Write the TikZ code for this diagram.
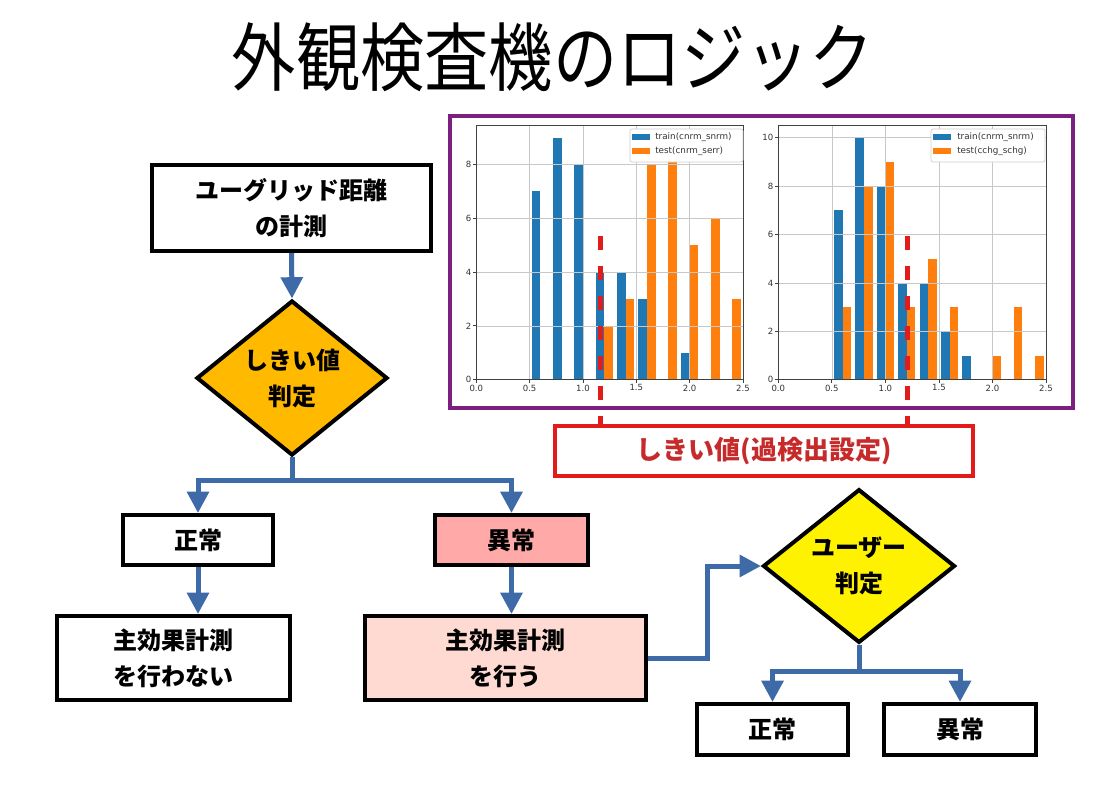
\documentclass[tikz,border=0pt]{standalone}
\usepackage{fontspec}
\usetikzlibrary{shapes.geometric,arrows.meta,calc}
\newfontfamily\jpfont{Noto Sans CJK JP}
\newfontfamily\pltfont{DejaVu Sans}
\definecolor{flowblue}{HTML}{3E6AA8}
\definecolor{gold}{HTML}{FFBA00}
\definecolor{alertpink}{HTML}{FFA9A9}
\definecolor{softpink}{HTML}{FFDAD2}
\definecolor{framepurple}{HTML}{7B1F80}
\definecolor{thrred}{HTML}{E41B1B}
\definecolor{thrtext}{HTML}{C62A2A}
\definecolor{mplblue}{HTML}{1F77B4}
\definecolor{mplorange}{HTML}{FF7F0E}
\definecolor{gridgray}{HTML}{C8C8C8}
\begin{document}
\begin{tikzpicture}[x=0.75pt,y=-0.75pt,
  box/.style={draw=black, line width=3pt, fill=white, align=center, inner sep=0pt,
    font=\jpfont\bfseries\fontsize{18}{27}\selectfont},
  decision/.style={diamond, draw=black, line width=3pt, align=center, inner sep=0pt,
    font=\jpfont\bfseries\fontsize{18}{27}\selectfont},
  flow/.style={draw=flowblue, line width=3.75pt, -{Triangle[width=16pt,length=16pt]}},
  flowline/.style={draw=flowblue, line width=3.75pt},
  thrbox/.style={draw=thrred, line width=3pt, fill=white, text=thrtext, inner sep=0pt,
    font=\jpfont\bfseries\fontsize{19.5}{24}\selectfont},
  thrdash/.style={draw=thrred, line width=3.75pt, dash pattern=on 10.5pt off 12pt},
  gridline/.style={draw=gridgray, line width=0.5pt},
  spine/.style={draw=black!75, line width=0.6pt},
  ticklabel/.style={font=\pltfont\fontsize{6.4}{7.5}\selectfont, text=black!80, inner sep=1pt},
  legendtext/.style={font=\pltfont\fontsize{6.6}{7.5}\selectfont, text=black!80, inner sep=0pt, anchor=west},
  legendbox/.style={draw=black!20, fill=white, line width=0.5pt, rounded corners=1.5pt}
]
\fill[white] (0,0) rectangle (1116,789);
\useasboundingbox (0,0) rectangle (1116,789);

% title
\node (title) at (553,57) {\scalebox{0.86}[1]{\jpfont\fontsize{56}{60}\selectfont 外観検査機のロジック}};

% ---------- histogram 1 ----------
\begin{scope}[shift={(476.3,379.7)}, x=80.0pt, y=20.18pt]
  \foreach \b/\h in {0.5/7,0.7/9,0.9/8,1.1/4,1.3/4,1.5/3,1.9/1}
    \fill[mplblue] (\b+0.02,0) rectangle (\b+0.10,\h);
  \foreach \b/\h in {1.1/2,1.3/3,1.5/8,1.7/9,1.9/5,2.1/6,2.3/3}
    \fill[mplorange] (\b+0.10,0) rectangle (\b+0.18,\h);
  \foreach \x in {0.5,1,1.5,2} \draw[gridline] (\x,0) -- (\x,9.45);
  \foreach \y in {2,4,6,8} \draw[gridline] (0,\y) -- (2.5,\y);
  \draw[spine] (0,0) rectangle (2.5,9.45);
  \foreach \x/\l [count=\i] in {0/0.0,0.5/0.5,1/1.0,1.5/1.5,2/2.0,2.5/2.5}
    \draw[spine] (\x,0) -- ++(0,-2.5pt) node[below, ticklabel] (xa\i) {\l};
  \foreach \y [count=\i] in {0,2,4,6,8}
    \draw[spine] (0,\y) -- ++(-2.5pt,0) node[left, ticklabel] (ya\i) {\y};
\end{scope}
\draw[legendbox] (630,129) rectangle (743,162);
\fill[mplblue] (632,134) rectangle (650,140);
\fill[mplorange] (632,148) rectangle (650,154);
\node[legendtext] (lga) at (655,137) {train(cnrm\_snrm)};
\node[legendtext] (lgb) at (655,151) {test(cnrm\_serr)};

% ---------- histogram 2 ----------
\begin{scope}[shift={(778.3,379.7)}, x=80.3pt, y=18.15pt]
  \foreach \b/\h in {0.5/7,0.7/10,0.9/8,1.1/4,1.3/4,1.5/2,1.7/1}
    \fill[mplblue] (\b+0.02,0) rectangle (\b+0.10,\h);
  \foreach \b/\h in {0.5/3,0.7/8,0.9/9,1.1/3,1.3/5,1.5/3,1.9/1,2.1/3,2.3/1}
    \fill[mplorange] (\b+0.10,0) rectangle (\b+0.18,\h);
  \foreach \x in {0.5,1,1.5,2} \draw[gridline] (\x,0) -- (\x,10.5);
  \foreach \y in {2,4,6,8,10} \draw[gridline] (0,\y) -- (2.5,\y);
  \draw[spine] (0,0) rectangle (2.5,10.5);
  \foreach \x/\l [count=\i] in {0/0.0,0.5/0.5,1/1.0,1.5/1.5,2/2.0,2.5/2.5}
    \draw[spine] (\x,0) -- ++(0,-2.5pt) node[below, ticklabel] (xb\i) {\l};
  \foreach \y [count=\i] in {0,2,4,6,8,10}
    \draw[spine] (0,\y) -- ++(-2.5pt,0) node[left, ticklabel] (yb\i) {\y};
\end{scope}
\draw[legendbox] (931,129) rectangle (1045,162);
\fill[mplblue] (933,134) rectangle (951,140);
\fill[mplorange] (933,148) rectangle (951,154);
\node[legendtext] (lgc) at (957,137) {train(cnrm\_snrm)};
\node[legendtext] (lgd) at (957,151) {test(cchg\_schg)};

% frame around the two histograms
\draw[framepurple, line width=3pt] (450,116) rectangle (1073,408);

% threshold box and dashed threshold lines
\node[thrbox, minimum width=313.5pt, minimum height=37.5pt] (thr) at (764,451) {しきい値(過検出設定)};
\coordinate (t1) at (600,236);
\coordinate (t2) at (907,236);
\draw[thrdash] (t1) -- (t1 |- thr.north);
\draw[thrdash] (t2) -- (t2 |- thr.north);

% ---------- flow chart ----------
\node[box, minimum width=209.25pt, minimum height=64.5pt] (b1) at (291.5,208) {ユーグリッド距離\\の計測};
\node[decision, fill=gold, minimum width=143.25pt, minimum height=106.5pt] (d1) at (292,378) {しきい値\\判定};
\node[box, minimum width=112.5pt, minimum height=37.5pt] (n1) at (198,540) {正常};
\node[box, fill=alertpink, minimum width=114.75pt, minimum height=37.5pt] (a1) at (511.5,540) {異常};
\node[box, minimum width=174.75pt, minimum height=63pt] (m1) at (173.5,658) {主効果計測\\を行わない};
\node[box, fill=softpink, minimum width=210.75pt, minimum height=63pt] (m2) at (505.5,658) {主効果計測\\を行う};
\node[decision, fill=yellow, minimum width=144pt, minimum height=105.75pt] (d2) at (859,566) {ユーザー\\判定};
\node[box, minimum width=113.25pt, minimum height=38.25pt] (n2) at (772.5,729.5) {正常};
\node[box, minimum width=114pt, minimum height=38.25pt] (a2) at (960,729.5) {異常};

\draw[flow] (b1.south) -- (d1.north);
\coordinate (s1) at (292,480);
\draw[flowline] (d1.south) -- (s1);
\draw[flow] (s1) -| (n1.north);
\draw[flow] (s1) -| (a1.north);
\draw[flow] (n1.south) -- (n1.south |- m1.north);
\draw[flow] (a1.south) -- (a1.south |- m2.north);
\draw[flow] (m2.east) -- ++(59,0) |- (d2.west);
\coordinate (s2) at (859,671);
\draw[flowline] (d2.south) -- (s2);
\draw[flow] (s2) -| (n2.north);
\draw[flow] (s2) -| (a2.north);
\end{tikzpicture}
\end{document}
